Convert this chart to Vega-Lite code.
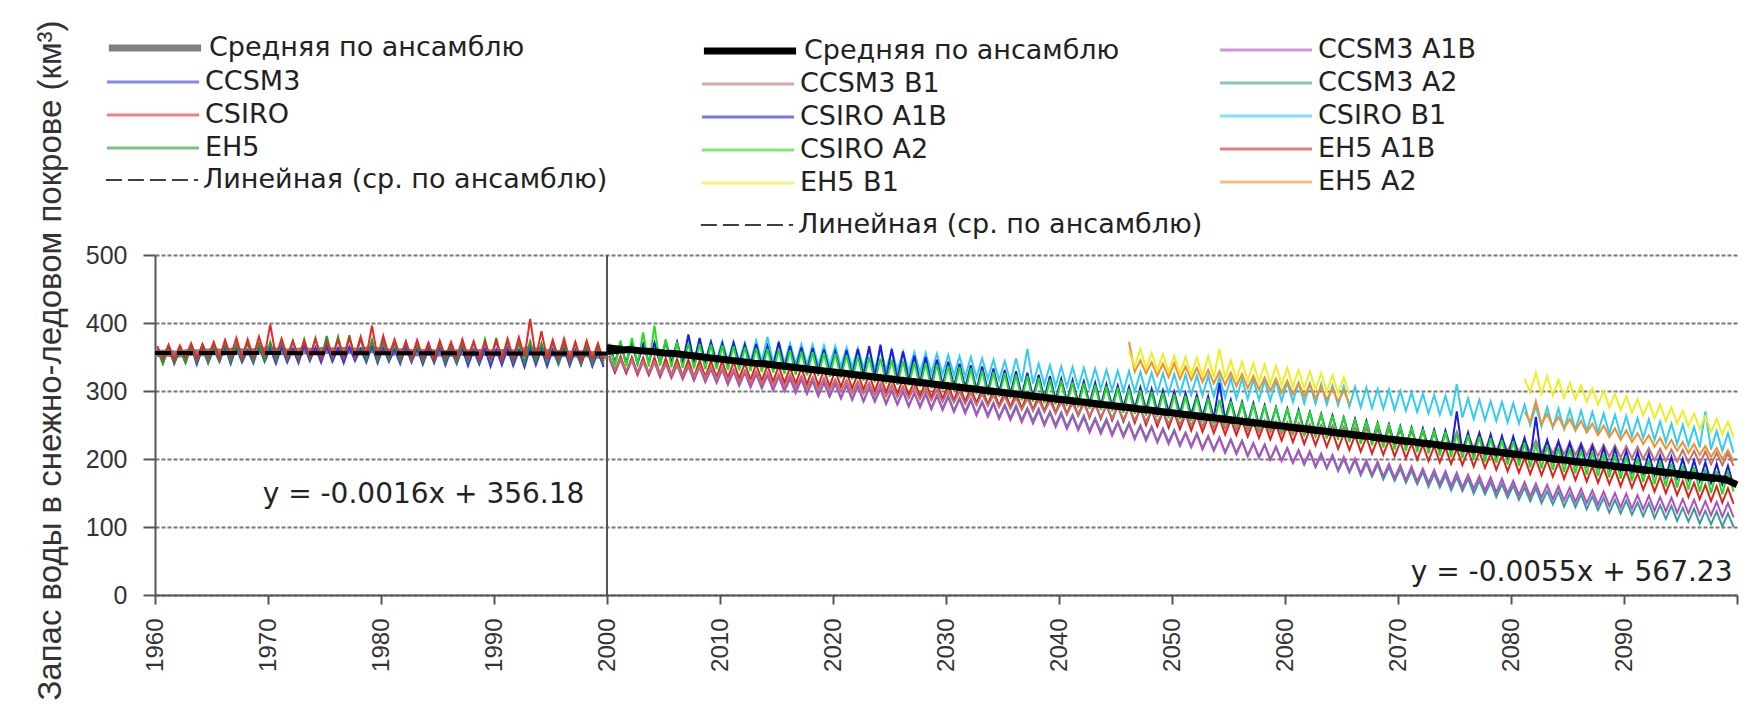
{
"$schema":"https://vega.github.io/schema/vega-lite/v6.json",
"width":1582,"height":340,
"autosize":{"type":"none"},
"padding":{"left":155,"top":255,"right":15,"bottom":133},
"background":"#ffffff",
"config":{"view":{"stroke":null},"font":"Liberation Sans","legend":{"orient":"none","symbolType":"stroke","symbolSize":8500,"clipHeight":30,"labelFont":"DejaVu Sans","labelFontSize":27,"labelColor":"#222222","labelLimit":0,"rowPadding":3,"labelOffset":4}},
"datasets":{
"hc":[{"t":1960.2,"v":362},{"t":1960.7,"v":341},{"t":1961.2,"v":364},{"t":1961.7,"v":340},{"t":1962.2,"v":361},{"t":1962.7,"v":342},{"t":1963.2,"v":366},{"t":1963.7,"v":339},{"t":1964.2,"v":363},{"t":1964.7,"v":341},{"t":1965.2,"v":362},{"t":1965.7,"v":343},{"t":1966.2,"v":365},{"t":1966.7,"v":340},{"t":1967.2,"v":364},{"t":1967.7,"v":342},{"t":1968.2,"v":360},{"t":1968.7,"v":341},{"t":1969.2,"v":366},{"t":1969.7,"v":343},{"t":1970.2,"v":363},{"t":1970.7,"v":340},{"t":1971.2,"v":365},{"t":1971.7,"v":342},{"t":1972.2,"v":362},{"t":1972.7,"v":341},{"t":1973.2,"v":367},{"t":1973.7,"v":344},{"t":1974.2,"v":364},{"t":1974.7,"v":342},{"t":1975.2,"v":366},{"t":1975.7,"v":343},{"t":1976.2,"v":363},{"t":1976.7,"v":341},{"t":1977.2,"v":365},{"t":1977.7,"v":344},{"t":1978.2,"v":362},{"t":1978.7,"v":342},{"t":1979.2,"v":366},{"t":1979.7,"v":341},{"t":1980.2,"v":364},{"t":1980.7,"v":343},{"t":1981.2,"v":361},{"t":1981.7,"v":340},{"t":1982.2,"v":365},{"t":1982.7,"v":342},{"t":1983.2,"v":363},{"t":1983.7,"v":339},{"t":1984.2,"v":362},{"t":1984.7,"v":341},{"t":1985.2,"v":364},{"t":1985.7,"v":338},{"t":1986.2,"v":361},{"t":1986.7,"v":340},{"t":1987.2,"v":363},{"t":1987.7,"v":337},{"t":1988.2,"v":360},{"t":1988.7,"v":339},{"t":1989.2,"v":362},{"t":1989.7,"v":336},{"t":1990.2,"v":361},{"t":1990.7,"v":338},{"t":1991.2,"v":363},{"t":1991.7,"v":337},{"t":1992.2,"v":360},{"t":1992.7,"v":335},{"t":1993.2,"v":364},{"t":1993.7,"v":338},{"t":1994.2,"v":362},{"t":1994.7,"v":336},{"t":1995.2,"v":361},{"t":1995.7,"v":339},{"t":1996.2,"v":363},{"t":1996.7,"v":337},{"t":1997.2,"v":360},{"t":1997.7,"v":338},{"t":1998.2,"v":362},{"t":1998.7,"v":336},{"t":1999.2,"v":358},{"t":1999.7,"v":335}],
"hs":[{"t":1960.2,"v":366},{"t":1960.7,"v":348},{"t":1961.2,"v":368},{"t":1961.7,"v":346},{"t":1962.2,"v":367},{"t":1962.7,"v":349},{"t":1963.2,"v":370},{"t":1963.7,"v":347},{"t":1964.2,"v":369},{"t":1964.7,"v":350},{"t":1965.2,"v":372},{"t":1965.7,"v":348},{"t":1966.2,"v":375},{"t":1966.7,"v":351},{"t":1967.2,"v":378},{"t":1967.7,"v":349},{"t":1968.2,"v":376},{"t":1968.7,"v":350},{"t":1969.2,"v":380},{"t":1969.7,"v":352},{"t":1970.2,"v":398},{"t":1970.7,"v":350},{"t":1971.2,"v":377},{"t":1971.7,"v":351},{"t":1972.2,"v":374},{"t":1972.7,"v":349},{"t":1973.2,"v":373},{"t":1973.7,"v":350},{"t":1974.2,"v":376},{"t":1974.7,"v":348},{"t":1975.2,"v":372},{"t":1975.7,"v":351},{"t":1976.2,"v":375},{"t":1976.7,"v":349},{"t":1977.2,"v":378},{"t":1977.7,"v":350},{"t":1978.2,"v":380},{"t":1978.7,"v":351},{"t":1979.2,"v":396},{"t":1979.7,"v":349},{"t":1980.2,"v":381},{"t":1980.7,"v":352},{"t":1981.2,"v":376},{"t":1981.7,"v":350},{"t":1982.2,"v":373},{"t":1982.7,"v":348},{"t":1983.2,"v":375},{"t":1983.7,"v":349},{"t":1984.2,"v":371},{"t":1984.7,"v":347},{"t":1985.2,"v":374},{"t":1985.7,"v":350},{"t":1986.2,"v":372},{"t":1986.7,"v":348},{"t":1987.2,"v":376},{"t":1987.7,"v":349},{"t":1988.2,"v":373},{"t":1988.7,"v":347},{"t":1989.2,"v":371},{"t":1989.7,"v":348},{"t":1990.2,"v":374},{"t":1990.7,"v":346},{"t":1991.2,"v":377},{"t":1991.7,"v":348},{"t":1992.2,"v":379},{"t":1992.7,"v":350},{"t":1993.2,"v":406},{"t":1993.7,"v":349},{"t":1994.2,"v":388},{"t":1994.7,"v":347},{"t":1995.2,"v":375},{"t":1995.7,"v":348},{"t":1996.2,"v":377},{"t":1996.7,"v":346},{"t":1997.2,"v":372},{"t":1997.7,"v":345},{"t":1998.2,"v":374},{"t":1998.7,"v":347},{"t":1999.2,"v":370},{"t":1999.7,"v":344}],
"he":[{"t":1960.2,"v":362},{"t":1960.7,"v":340},{"t":1961.2,"v":365},{"t":1961.7,"v":342},{"t":1962.2,"v":363},{"t":1962.7,"v":341},{"t":1963.2,"v":366},{"t":1963.7,"v":343},{"t":1964.2,"v":368},{"t":1964.7,"v":342},{"t":1965.2,"v":367},{"t":1965.7,"v":344},{"t":1966.2,"v":370},{"t":1966.7,"v":343},{"t":1967.2,"v":369},{"t":1967.7,"v":345},{"t":1968.2,"v":371},{"t":1968.7,"v":344},{"t":1969.2,"v":370},{"t":1969.7,"v":346},{"t":1970.2,"v":372},{"t":1970.7,"v":345},{"t":1971.2,"v":374},{"t":1971.7,"v":347},{"t":1972.2,"v":373},{"t":1972.7,"v":346},{"t":1973.2,"v":376},{"t":1973.7,"v":348},{"t":1974.2,"v":378},{"t":1974.7,"v":347},{"t":1975.2,"v":381},{"t":1975.7,"v":349},{"t":1976.2,"v":380},{"t":1976.7,"v":348},{"t":1977.2,"v":382},{"t":1977.7,"v":347},{"t":1978.2,"v":377},{"t":1978.7,"v":346},{"t":1979.2,"v":375},{"t":1979.7,"v":345},{"t":1980.2,"v":373},{"t":1980.7,"v":346},{"t":1981.2,"v":371},{"t":1981.7,"v":344},{"t":1982.2,"v":372},{"t":1982.7,"v":345},{"t":1983.2,"v":369},{"t":1983.7,"v":343},{"t":1984.2,"v":370},{"t":1984.7,"v":344},{"t":1985.2,"v":371},{"t":1985.7,"v":343},{"t":1986.2,"v":368},{"t":1986.7,"v":342},{"t":1987.2,"v":370},{"t":1987.7,"v":344},{"t":1988.2,"v":372},{"t":1988.7,"v":343},{"t":1989.2,"v":376},{"t":1989.7,"v":345},{"t":1990.2,"v":378},{"t":1990.7,"v":344},{"t":1991.2,"v":374},{"t":1991.7,"v":343},{"t":1992.2,"v":371},{"t":1992.7,"v":342},{"t":1993.2,"v":373},{"t":1993.7,"v":344},{"t":1994.2,"v":370},{"t":1994.7,"v":343},{"t":1995.2,"v":372},{"t":1995.7,"v":341},{"t":1996.2,"v":369},{"t":1996.7,"v":342},{"t":1997.2,"v":371},{"t":1997.7,"v":340},{"t":1998.2,"v":368},{"t":1998.7,"v":341},{"t":1999.2,"v":366},{"t":1999.7,"v":339}],
"hm":[{"t":1960,"v":355},{"t":1961,"v":356},{"t":1962,"v":354},{"t":1963,"v":357},{"t":1964,"v":356},{"t":1965,"v":358},{"t":1966,"v":357},{"t":1967,"v":359},{"t":1968,"v":357},{"t":1969,"v":358},{"t":1970,"v":361},{"t":1971,"v":358},{"t":1972,"v":357},{"t":1973,"v":359},{"t":1974,"v":358},{"t":1975,"v":360},{"t":1976,"v":359},{"t":1977,"v":360},{"t":1978,"v":358},{"t":1979,"v":361},{"t":1980,"v":359},{"t":1981,"v":357},{"t":1982,"v":358},{"t":1983,"v":356},{"t":1984,"v":357},{"t":1985,"v":356},{"t":1986,"v":355},{"t":1987,"v":357},{"t":1988,"v":356},{"t":1989,"v":357},{"t":1990,"v":356},{"t":1991,"v":357},{"t":1992,"v":356},{"t":1993,"v":361},{"t":1994,"v":358},{"t":1995,"v":356},{"t":1996,"v":355},{"t":1997,"v":354},{"t":1998,"v":355},{"t":1999,"v":353},{"t":2000,"v":352}],
"hl":[{"t":1960,"v":356},{"t":2000,"v":355}],
"fl":[{"t":2000,"v":366},{"t":2100,"v":165}],
"a2":[{"t":2000.2,"v":351},{"t":2000.7,"v":331},{"t":2001.2,"v":347},{"t":2001.7,"v":328},{"t":2002.2,"v":347},{"t":2002.7,"v":325},{"t":2003.2,"v":346},{"t":2003.7,"v":326},{"t":2004.2,"v":344},{"t":2004.7,"v":322},{"t":2005.2,"v":342},{"t":2005.7,"v":321},{"t":2006.2,"v":338},{"t":2006.7,"v":320},{"t":2007.2,"v":338},{"t":2007.7,"v":316},{"t":2008.2,"v":337},{"t":2008.7,"v":315},{"t":2009.2,"v":333},{"t":2009.7,"v":314},{"t":2010.2,"v":333},{"t":2010.7,"v":312},{"t":2011.2,"v":330},{"t":2011.7,"v":309},{"t":2012.2,"v":329},{"t":2012.7,"v":307},{"t":2013.2,"v":325},{"t":2013.7,"v":306},{"t":2014.2,"v":324},{"t":2014.7,"v":302},{"t":2015.2,"v":322},{"t":2015.7,"v":300},{"t":2016.2,"v":318},{"t":2016.7,"v":300},{"t":2017.2,"v":318},{"t":2017.7,"v":296},{"t":2018.2,"v":315},{"t":2018.7,"v":293},{"t":2019.2,"v":312},{"t":2019.7,"v":292},{"t":2020.2,"v":311},{"t":2020.7,"v":290},{"t":2021.2,"v":308},{"t":2021.7,"v":287},{"t":2022.2,"v":307},{"t":2022.7,"v":285},{"t":2023.2,"v":305},{"t":2023.7,"v":286},{"t":2024.2,"v":304},{"t":2024.7,"v":282},{"t":2025.2,"v":301},{"t":2025.7,"v":281},{"t":2026.2,"v":300},{"t":2026.7,"v":278},{"t":2027.2,"v":297},{"t":2027.7,"v":278},{"t":2028.2,"v":297},{"t":2028.7,"v":275},{"t":2029.2,"v":294},{"t":2029.7,"v":274},{"t":2030.2,"v":293},{"t":2030.7,"v":271},{"t":2031.2,"v":290},{"t":2031.7,"v":270},{"t":2032.2,"v":288},{"t":2032.7,"v":266},{"t":2033.2,"v":285},{"t":2033.7,"v":265},{"t":2034.2,"v":283},{"t":2034.7,"v":261},{"t":2035.2,"v":280},{"t":2035.7,"v":260},{"t":2036.2,"v":279},{"t":2036.7,"v":257},{"t":2037.2,"v":275},{"t":2037.7,"v":256},{"t":2038.2,"v":274},{"t":2038.7,"v":252},{"t":2039.2,"v":270},{"t":2039.7,"v":250},{"t":2040.2,"v":269},{"t":2040.7,"v":247},{"t":2041.2,"v":265},{"t":2041.7,"v":245},{"t":2042.2,"v":264},{"t":2042.7,"v":242},{"t":2043.2,"v":260},{"t":2043.7,"v":241},{"t":2044.2,"v":259},{"t":2044.7,"v":237},{"t":2045.2,"v":255},{"t":2045.7,"v":235},{"t":2046.2,"v":253},{"t":2046.7,"v":231},{"t":2047.2,"v":250},{"t":2047.7,"v":230},{"t":2048.2,"v":248},{"t":2048.7,"v":226},{"t":2049.2,"v":245},{"t":2049.7,"v":225},{"t":2050.2,"v":243},{"t":2050.7,"v":221},{"t":2051.2,"v":239},{"t":2051.7,"v":219},{"t":2052.2,"v":238},{"t":2052.7,"v":216},{"t":2053.2,"v":234},{"t":2053.7,"v":214},{"t":2054.2,"v":232},{"t":2054.7,"v":210},{"t":2055.2,"v":229},{"t":2055.7,"v":209},{"t":2056.2,"v":227},{"t":2056.7,"v":205},{"t":2057.2,"v":223},{"t":2057.7,"v":203},{"t":2058.2,"v":221},{"t":2058.7,"v":199},{"t":2059.2,"v":218},{"t":2059.7,"v":198},{"t":2060.2,"v":216},{"t":2060.7,"v":195},{"t":2061.2,"v":212},{"t":2061.7,"v":192},{"t":2062.2,"v":210},{"t":2062.7,"v":188},{"t":2063.2,"v":206},{"t":2063.7,"v":186},{"t":2064.2,"v":204},{"t":2064.7,"v":182},{"t":2065.2,"v":200},{"t":2065.7,"v":180},{"t":2066.2,"v":198},{"t":2066.7,"v":176},{"t":2067.2,"v":194},{"t":2067.7,"v":174},{"t":2068.2,"v":192},{"t":2068.7,"v":170},{"t":2069.2,"v":188},{"t":2069.7,"v":168},{"t":2070.2,"v":186},{"t":2070.7,"v":165},{"t":2071.2,"v":183},{"t":2071.7,"v":163},{"t":2072.2,"v":181},{"t":2072.7,"v":159},{"t":2073.2,"v":178},{"t":2073.7,"v":158},{"t":2074.2,"v":176},{"t":2074.7,"v":154},{"t":2075.2,"v":173},{"t":2075.7,"v":153},{"t":2076.2,"v":171},{"t":2076.7,"v":149},{"t":2077.2,"v":168},{"t":2077.7,"v":148},{"t":2078.2,"v":166},{"t":2078.7,"v":144},{"t":2079.2,"v":163},{"t":2079.7,"v":143},{"t":2080.2,"v":161},{"t":2080.7,"v":140},{"t":2081.2,"v":158},{"t":2081.7,"v":138},{"t":2082.2,"v":157},{"t":2082.7,"v":135},{"t":2083.2,"v":153},{"t":2083.7,"v":133},{"t":2084.2,"v":152},{"t":2084.7,"v":130},{"t":2085.2,"v":149},{"t":2085.7,"v":129},{"t":2086.2,"v":148},{"t":2086.7,"v":126},{"t":2087.2,"v":145},{"t":2087.7,"v":125},{"t":2088.2,"v":143},{"t":2088.7,"v":121},{"t":2089.2,"v":140},{"t":2089.7,"v":120},{"t":2090.2,"v":139},{"t":2090.7,"v":118},{"t":2091.2,"v":136},{"t":2091.7,"v":116},{"t":2092.2,"v":135},{"t":2092.7,"v":113},{"t":2093.2,"v":132},{"t":2093.7,"v":112},{"t":2094.2,"v":131},{"t":2094.7,"v":109},{"t":2095.2,"v":128},{"t":2095.7,"v":108},{"t":2096.2,"v":127},{"t":2096.7,"v":105},{"t":2097.2,"v":124},{"t":2097.7,"v":104},{"t":2098.2,"v":123},{"t":2098.7,"v":101},{"t":2099.2,"v":120},{"t":2099.7,"v":100}],
"a1":[{"t":2000.2,"v":348},{"t":2000.7,"v":327},{"t":2001.2,"v":346},{"t":2001.7,"v":326},{"t":2002.2,"v":345},{"t":2002.7,"v":323},{"t":2003.2,"v":343},{"t":2003.7,"v":323},{"t":2004.2,"v":342},{"t":2004.7,"v":320},{"t":2005.2,"v":340},{"t":2005.7,"v":319},{"t":2006.2,"v":338},{"t":2006.7,"v":317},{"t":2007.2,"v":336},{"t":2007.7,"v":316},{"t":2008.2,"v":335},{"t":2008.7,"v":313},{"t":2009.2,"v":332},{"t":2009.7,"v":312},{"t":2010.2,"v":331},{"t":2010.7,"v":309},{"t":2011.2,"v":329},{"t":2011.7,"v":308},{"t":2012.2,"v":327},{"t":2012.7,"v":305},{"t":2013.2,"v":325},{"t":2013.7,"v":304},{"t":2014.2,"v":323},{"t":2014.7,"v":301},{"t":2015.2,"v":321},{"t":2015.7,"v":300},{"t":2016.2,"v":319},{"t":2016.7,"v":297},{"t":2017.2,"v":317},{"t":2017.7,"v":296},{"t":2018.2,"v":315},{"t":2018.7,"v":293},{"t":2019.2,"v":313},{"t":2019.7,"v":292},{"t":2020.2,"v":311},{"t":2020.7,"v":289},{"t":2021.2,"v":309},{"t":2021.7,"v":288},{"t":2022.2,"v":307},{"t":2022.7,"v":285},{"t":2023.2,"v":305},{"t":2023.7,"v":284},{"t":2024.2,"v":303},{"t":2024.7,"v":281},{"t":2025.2,"v":301},{"t":2025.7,"v":280},{"t":2026.2,"v":299},{"t":2026.7,"v":277},{"t":2027.2,"v":297},{"t":2027.7,"v":276},{"t":2028.2,"v":295},{"t":2028.7,"v":273},{"t":2029.2,"v":293},{"t":2029.7,"v":272},{"t":2030.2,"v":291},{"t":2030.7,"v":269},{"t":2031.2,"v":288},{"t":2031.7,"v":267},{"t":2032.2,"v":286},{"t":2032.7,"v":264},{"t":2033.2,"v":283},{"t":2033.7,"v":262},{"t":2034.2,"v":281},{"t":2034.7,"v":259},{"t":2035.2,"v":278},{"t":2035.7,"v":257},{"t":2036.2,"v":276},{"t":2036.7,"v":254},{"t":2037.2,"v":273},{"t":2037.7,"v":252},{"t":2038.2,"v":271},{"t":2038.7,"v":249},{"t":2039.2,"v":268},{"t":2039.7,"v":247},{"t":2040.2,"v":266},{"t":2040.7,"v":244},{"t":2041.2,"v":263},{"t":2041.7,"v":242},{"t":2042.2,"v":261},{"t":2042.7,"v":239},{"t":2043.2,"v":258},{"t":2043.7,"v":237},{"t":2044.2,"v":256},{"t":2044.7,"v":234},{"t":2045.2,"v":253},{"t":2045.7,"v":232},{"t":2046.2,"v":251},{"t":2046.7,"v":229},{"t":2047.2,"v":248},{"t":2047.7,"v":227},{"t":2048.2,"v":246},{"t":2048.7,"v":224},{"t":2049.2,"v":243},{"t":2049.7,"v":222},{"t":2050.2,"v":241},{"t":2050.7,"v":219},{"t":2051.2,"v":238},{"t":2051.7,"v":217},{"t":2052.2,"v":236},{"t":2052.7,"v":214},{"t":2053.2,"v":233},{"t":2053.7,"v":212},{"t":2054.2,"v":231},{"t":2054.7,"v":209},{"t":2055.2,"v":228},{"t":2055.7,"v":207},{"t":2056.2,"v":226},{"t":2056.7,"v":204},{"t":2057.2,"v":223},{"t":2057.7,"v":202},{"t":2058.2,"v":221},{"t":2058.7,"v":199},{"t":2059.2,"v":218},{"t":2059.7,"v":197},{"t":2060.2,"v":216},{"t":2060.7,"v":194},{"t":2061.2,"v":213},{"t":2061.7,"v":192},{"t":2062.2,"v":211},{"t":2062.7,"v":189},{"t":2063.2,"v":208},{"t":2063.7,"v":187},{"t":2064.2,"v":206},{"t":2064.7,"v":184},{"t":2065.2,"v":203},{"t":2065.7,"v":182},{"t":2066.2,"v":201},{"t":2066.7,"v":179},{"t":2067.2,"v":198},{"t":2067.7,"v":177},{"t":2068.2,"v":196},{"t":2068.7,"v":174},{"t":2069.2,"v":193},{"t":2069.7,"v":172},{"t":2070.2,"v":191},{"t":2070.7,"v":169},{"t":2071.2,"v":189},{"t":2071.7,"v":167},{"t":2072.2,"v":186},{"t":2072.7,"v":165},{"t":2073.2,"v":184},{"t":2073.7,"v":163},{"t":2074.2,"v":182},{"t":2074.7,"v":160},{"t":2075.2,"v":180},{"t":2075.7,"v":158},{"t":2076.2,"v":177},{"t":2076.7,"v":156},{"t":2077.2,"v":175},{"t":2077.7,"v":154},{"t":2078.2,"v":173},{"t":2078.7,"v":151},{"t":2079.2,"v":171},{"t":2079.7,"v":149},{"t":2080.2,"v":168},{"t":2080.7,"v":147},{"t":2081.2,"v":166},{"t":2081.7,"v":145},{"t":2082.2,"v":164},{"t":2082.7,"v":143},{"t":2083.2,"v":162},{"t":2083.7,"v":141},{"t":2084.2,"v":160},{"t":2084.7,"v":139},{"t":2085.2,"v":158},{"t":2085.7,"v":137},{"t":2086.2,"v":156},{"t":2086.7,"v":135},{"t":2087.2,"v":154},{"t":2087.7,"v":133},{"t":2088.2,"v":152},{"t":2088.7,"v":131},{"t":2089.2,"v":150},{"t":2089.7,"v":129},{"t":2090.2,"v":149},{"t":2090.7,"v":127},{"t":2091.2,"v":147},{"t":2091.7,"v":126},{"t":2092.2,"v":146},{"t":2092.7,"v":124},{"t":2093.2,"v":144},{"t":2093.7,"v":123},{"t":2094.2,"v":143},{"t":2094.7,"v":121},{"t":2095.2,"v":141},{"t":2095.7,"v":120},{"t":2096.2,"v":140},{"t":2096.7,"v":118},{"t":2097.2,"v":138},{"t":2097.7,"v":117},{"t":2098.2,"v":137},{"t":2098.7,"v":115},{"t":2099.2,"v":135},{"t":2099.7,"v":114}],
"b1":[{"t":2000.2,"v":350},{"t":2000.7,"v":331},{"t":2001.2,"v":347},{"t":2001.7,"v":330},{"t":2002.2,"v":346},{"t":2002.7,"v":328},{"t":2003.2,"v":344},{"t":2003.7,"v":327},{"t":2004.2,"v":343},{"t":2004.7,"v":325},{"t":2005.2,"v":341},{"t":2005.7,"v":324},{"t":2006.2,"v":340},{"t":2006.7,"v":322},{"t":2007.2,"v":338},{"t":2007.7,"v":321},{"t":2008.2,"v":337},{"t":2008.7,"v":319},{"t":2009.2,"v":335},{"t":2009.7,"v":318},{"t":2010.2,"v":334},{"t":2010.7,"v":316},{"t":2011.2,"v":332},{"t":2011.7,"v":314},{"t":2012.2,"v":330},{"t":2012.7,"v":313},{"t":2013.2,"v":329},{"t":2013.7,"v":311},{"t":2014.2,"v":327},{"t":2014.7,"v":309},{"t":2015.2,"v":325},{"t":2015.7,"v":307},{"t":2016.2,"v":324},{"t":2016.7,"v":306},{"t":2017.2,"v":322},{"t":2017.7,"v":304},{"t":2018.2,"v":320},{"t":2018.7,"v":302},{"t":2019.2,"v":319},{"t":2019.7,"v":301},{"t":2020.2,"v":317},{"t":2020.7,"v":299},{"t":2021.2,"v":316},{"t":2021.7,"v":297},{"t":2022.2,"v":314},{"t":2022.7,"v":296},{"t":2023.2,"v":312},{"t":2023.7,"v":294},{"t":2024.2,"v":311},{"t":2024.7,"v":292},{"t":2025.2,"v":309},{"t":2025.7,"v":291},{"t":2026.2,"v":307},{"t":2026.7,"v":289},{"t":2027.2,"v":306},{"t":2027.7,"v":288},{"t":2028.2,"v":304},{"t":2028.7,"v":286},{"t":2029.2,"v":302},{"t":2029.7,"v":284},{"t":2030.2,"v":301},{"t":2030.7,"v":283},{"t":2031.2,"v":299},{"t":2031.7,"v":281},{"t":2032.2,"v":297},{"t":2032.7,"v":279},{"t":2033.2,"v":296},{"t":2033.7,"v":278},{"t":2034.2,"v":294},{"t":2034.7,"v":276},{"t":2035.2,"v":292},{"t":2035.7,"v":274},{"t":2036.2,"v":290},{"t":2036.7,"v":272},{"t":2037.2,"v":289},{"t":2037.7,"v":271},{"t":2038.2,"v":287},{"t":2038.7,"v":269},{"t":2039.2,"v":285},{"t":2039.7,"v":267},{"t":2040.2,"v":284},{"t":2040.7,"v":266},{"t":2041.2,"v":282},{"t":2041.7,"v":264},{"t":2042.2,"v":281},{"t":2042.7,"v":263},{"t":2043.2,"v":279},{"t":2043.7,"v":261},{"t":2044.2,"v":278},{"t":2044.7,"v":260},{"t":2045.2,"v":276},{"t":2045.7,"v":258},{"t":2046.2,"v":275},{"t":2046.7,"v":257},{"t":2047.2,"v":273},{"t":2047.7,"v":255},{"t":2048.2,"v":272},{"t":2048.7,"v":254},{"t":2049.2,"v":270},{"t":2049.7,"v":252},{"t":2050.2,"v":269},{"t":2050.7,"v":251},{"t":2051.2,"v":267},{"t":2051.7,"v":249},{"t":2052.2,"v":266},{"t":2052.7,"v":248},{"t":2053.2,"v":264},{"t":2053.7,"v":246},{"t":2054.2,"v":263},{"t":2054.7,"v":245},{"t":2055.2,"v":261},{"t":2055.7,"v":243},{"t":2056.2,"v":260},{"t":2056.7,"v":242},{"t":2057.2,"v":258},{"t":2057.7,"v":240},{"t":2058.2,"v":257},{"t":2058.7,"v":239},{"t":2059.2,"v":255},{"t":2059.7,"v":237},{"t":2060.2,"v":254},{"t":2060.7,"v":236},{"t":2061.2,"v":253},{"t":2061.7,"v":235},{"t":2062.2,"v":251},{"t":2062.7,"v":233},{"t":2063.2,"v":250},{"t":2063.7,"v":232},{"t":2064.2,"v":249},{"t":2064.7,"v":231},{"t":2065.2,"v":247},{"t":2065.7,"v":229},{"t":2066.2,"v":246},{"t":2066.7,"v":228},{"t":2067.2,"v":245},{"t":2067.7,"v":227},{"t":2068.2,"v":243},{"t":2068.7,"v":225},{"t":2069.2,"v":242},{"t":2069.7,"v":224},{"t":2070.2,"v":241},{"t":2070.7,"v":223},{"t":2071.2,"v":240},{"t":2071.7,"v":222},{"t":2072.2,"v":239},{"t":2072.7,"v":220},{"t":2073.2,"v":237},{"t":2073.7,"v":219},{"t":2074.2,"v":236},{"t":2074.7,"v":218},{"t":2075.2,"v":240},{"t":2075.7,"v":217},{"t":2076.2,"v":234},{"t":2076.7,"v":216},{"t":2077.2,"v":238},{"t":2077.7,"v":214},{"t":2078.2,"v":231},{"t":2078.7,"v":213},{"t":2079.2,"v":230},{"t":2079.7,"v":212},{"t":2080.2,"v":229},{"t":2080.7,"v":211},{"t":2081.2,"v":228},{"t":2081.7,"v":210},{"t":2082.2,"v":227},{"t":2082.7,"v":209},{"t":2083.2,"v":226},{"t":2083.7,"v":208},{"t":2084.2,"v":225},{"t":2084.7,"v":207},{"t":2085.2,"v":224},{"t":2085.7,"v":206},{"t":2086.2,"v":223},{"t":2086.7,"v":205},{"t":2087.2,"v":222},{"t":2087.7,"v":204},{"t":2088.2,"v":221},{"t":2088.7,"v":203},{"t":2089.2,"v":220},{"t":2089.7,"v":202},{"t":2090.2,"v":219},{"t":2090.7,"v":201},{"t":2091.2,"v":218},{"t":2091.7,"v":200},{"t":2092.2,"v":216},{"t":2092.7,"v":198},{"t":2093.2,"v":215},{"t":2093.7,"v":197},{"t":2094.2,"v":214},{"t":2094.7,"v":196},{"t":2095.2,"v":213},{"t":2095.7,"v":195},{"t":2096.2,"v":212},{"t":2096.7,"v":193},{"t":2097.2,"v":211},{"t":2097.7,"v":192},{"t":2098.2,"v":209},{"t":2098.7,"v":191},{"t":2099.2,"v":208},{"t":2099.7,"v":190}],
"sa1":[{"t":2000.2,"v":368},{"t":2000.7,"v":342},{"t":2001.2,"v":370},{"t":2001.7,"v":341},{"t":2002.2,"v":372},{"t":2002.7,"v":340},{"t":2003.2,"v":369},{"t":2003.7,"v":342},{"t":2004.2,"v":371},{"t":2004.7,"v":340},{"t":2005.2,"v":374},{"t":2005.7,"v":341},{"t":2006.2,"v":372},{"t":2006.7,"v":340},{"t":2007.2,"v":383},{"t":2007.7,"v":342},{"t":2008.2,"v":378},{"t":2008.7,"v":341},{"t":2009.2,"v":372},{"t":2009.7,"v":340},{"t":2010.2,"v":370},{"t":2010.7,"v":340},{"t":2011.2,"v":371},{"t":2011.7,"v":339},{"t":2012.2,"v":368},{"t":2012.7,"v":337},{"t":2013.2,"v":369},{"t":2013.7,"v":336},{"t":2014.2,"v":366},{"t":2014.7,"v":335},{"t":2015.2,"v":372},{"t":2015.7,"v":334},{"t":2016.2,"v":366},{"t":2016.7,"v":332},{"t":2017.2,"v":364},{"t":2017.7,"v":330},{"t":2018.2,"v":363},{"t":2018.7,"v":329},{"t":2019.2,"v":361},{"t":2019.7,"v":327},{"t":2020.2,"v":358},{"t":2020.7,"v":325},{"t":2021.2,"v":360},{"t":2021.7,"v":323},{"t":2022.2,"v":362},{"t":2022.7,"v":322},{"t":2023.2,"v":366},{"t":2023.7,"v":320},{"t":2024.2,"v":368},{"t":2024.7,"v":318},{"t":2025.2,"v":362},{"t":2025.7,"v":316},{"t":2026.2,"v":358},{"t":2026.7,"v":315},{"t":2027.2,"v":352},{"t":2027.7,"v":312},{"t":2028.2,"v":350},{"t":2028.7,"v":311},{"t":2029.2,"v":346},{"t":2029.7,"v":309},{"t":2030.2,"v":343},{"t":2030.7,"v":307},{"t":2031.2,"v":340},{"t":2031.7,"v":305},{"t":2032.2,"v":338},{"t":2032.7,"v":302},{"t":2033.2,"v":336},{"t":2033.7,"v":300},{"t":2034.2,"v":333},{"t":2034.7,"v":298},{"t":2035.2,"v":331},{"t":2035.7,"v":296},{"t":2036.2,"v":329},{"t":2036.7,"v":293},{"t":2037.2,"v":327},{"t":2037.7,"v":291},{"t":2038.2,"v":324},{"t":2038.7,"v":289},{"t":2039.2,"v":322},{"t":2039.7,"v":287},{"t":2040.2,"v":318},{"t":2040.7,"v":285},{"t":2041.2,"v":316},{"t":2041.7,"v":283},{"t":2042.2,"v":314},{"t":2042.7,"v":281},{"t":2043.2,"v":312},{"t":2043.7,"v":279},{"t":2044.2,"v":310},{"t":2044.7,"v":278},{"t":2045.2,"v":308},{"t":2045.7,"v":276},{"t":2046.2,"v":306},{"t":2046.7,"v":274},{"t":2047.2,"v":305},{"t":2047.7,"v":272},{"t":2048.2,"v":303},{"t":2048.7,"v":270},{"t":2049.2,"v":301},{"t":2049.7,"v":269},{"t":2050.2,"v":299},{"t":2050.7,"v":267},{"t":2051.2,"v":297},{"t":2051.7,"v":265},{"t":2052.2,"v":294},{"t":2052.7,"v":262},{"t":2053.2,"v":292},{"t":2053.7,"v":260},{"t":2054.2,"v":312},{"t":2054.7,"v":258},{"t":2055.2,"v":287},{"t":2055.7,"v":255},{"t":2056.2,"v":284},{"t":2056.7,"v":253},{"t":2057.2,"v":282},{"t":2057.7,"v":250},{"t":2058.2,"v":279},{"t":2058.7,"v":248},{"t":2059.2,"v":276},{"t":2059.7,"v":245},{"t":2060.2,"v":274},{"t":2060.7,"v":243},{"t":2061.2,"v":272},{"t":2061.7,"v":241},{"t":2062.2,"v":269},{"t":2062.7,"v":238},{"t":2063.2,"v":266},{"t":2063.7,"v":236},{"t":2064.2,"v":264},{"t":2064.7,"v":233},{"t":2065.2,"v":261},{"t":2065.7,"v":231},{"t":2066.2,"v":259},{"t":2066.7,"v":228},{"t":2067.2,"v":256},{"t":2067.7,"v":226},{"t":2068.2,"v":253},{"t":2068.7,"v":223},{"t":2069.2,"v":251},{"t":2069.7,"v":221},{"t":2070.2,"v":248},{"t":2070.7,"v":218},{"t":2071.2,"v":246},{"t":2071.7,"v":216},{"t":2072.2,"v":245},{"t":2072.7,"v":215},{"t":2073.2,"v":243},{"t":2073.7,"v":213},{"t":2074.2,"v":242},{"t":2074.7,"v":212},{"t":2075.2,"v":270},{"t":2075.7,"v":210},{"t":2076.2,"v":239},{"t":2076.7,"v":208},{"t":2077.2,"v":238},{"t":2077.7,"v":207},{"t":2078.2,"v":236},{"t":2078.7,"v":205},{"t":2079.2,"v":234},{"t":2079.7,"v":203},{"t":2080.2,"v":233},{"t":2080.7,"v":202},{"t":2081.2,"v":231},{"t":2081.7,"v":200},{"t":2082.2,"v":262},{"t":2082.7,"v":198},{"t":2083.2,"v":228},{"t":2083.7,"v":197},{"t":2084.2,"v":226},{"t":2084.7,"v":195},{"t":2085.2,"v":224},{"t":2085.7,"v":193},{"t":2086.2,"v":221},{"t":2086.7,"v":191},{"t":2087.2,"v":219},{"t":2087.7,"v":188},{"t":2088.2,"v":217},{"t":2088.7,"v":186},{"t":2089.2,"v":215},{"t":2089.7,"v":184},{"t":2090.2,"v":212},{"t":2090.7,"v":181},{"t":2091.2,"v":210},{"t":2091.7,"v":179},{"t":2092.2,"v":208},{"t":2092.7,"v":177},{"t":2093.2,"v":205},{"t":2093.7,"v":174},{"t":2094.2,"v":203},{"t":2094.7,"v":172},{"t":2095.2,"v":200},{"t":2095.7,"v":170},{"t":2096.2,"v":198},{"t":2096.7,"v":168},{"t":2097.2,"v":195},{"t":2097.7,"v":165},{"t":2098.2,"v":193},{"t":2098.7,"v":163},{"t":2099.2,"v":190},{"t":2099.7,"v":160}],
"sb1":[{"t":2000.2,"v":364},{"t":2000.7,"v":340},{"t":2001.2,"v":366},{"t":2001.7,"v":341},{"t":2002.2,"v":367},{"t":2002.7,"v":342},{"t":2003.2,"v":368},{"t":2003.7,"v":343},{"t":2004.2,"v":369},{"t":2004.7,"v":343},{"t":2005.2,"v":370},{"t":2005.7,"v":344},{"t":2006.2,"v":371},{"t":2006.7,"v":344},{"t":2007.2,"v":371},{"t":2007.7,"v":345},{"t":2008.2,"v":372},{"t":2008.7,"v":345},{"t":2009.2,"v":372},{"t":2009.7,"v":345},{"t":2010.2,"v":373},{"t":2010.7,"v":344},{"t":2011.2,"v":372},{"t":2011.7,"v":344},{"t":2012.2,"v":371},{"t":2012.7,"v":343},{"t":2013.2,"v":374},{"t":2013.7,"v":343},{"t":2014.2,"v":380},{"t":2014.7,"v":342},{"t":2015.2,"v":371},{"t":2015.7,"v":341},{"t":2016.2,"v":370},{"t":2016.7,"v":340},{"t":2017.2,"v":369},{"t":2017.7,"v":339},{"t":2018.2,"v":368},{"t":2018.7,"v":338},{"t":2019.2,"v":367},{"t":2019.7,"v":337},{"t":2020.2,"v":366},{"t":2020.7,"v":336},{"t":2021.2,"v":364},{"t":2021.7,"v":335},{"t":2022.2,"v":363},{"t":2022.7,"v":334},{"t":2023.2,"v":362},{"t":2023.7,"v":332},{"t":2024.2,"v":361},{"t":2024.7,"v":331},{"t":2025.2,"v":360},{"t":2025.7,"v":330},{"t":2026.2,"v":358},{"t":2026.7,"v":329},{"t":2027.2,"v":357},{"t":2027.7,"v":327},{"t":2028.2,"v":356},{"t":2028.7,"v":326},{"t":2029.2,"v":355},{"t":2029.7,"v":325},{"t":2030.2,"v":353},{"t":2030.7,"v":323},{"t":2031.2,"v":351},{"t":2031.7,"v":321},{"t":2032.2,"v":350},{"t":2032.7,"v":320},{"t":2033.2,"v":348},{"t":2033.7,"v":318},{"t":2034.2,"v":346},{"t":2034.7,"v":316},{"t":2035.2,"v":344},{"t":2035.7,"v":314},{"t":2036.2,"v":348},{"t":2036.7,"v":313},{"t":2037.2,"v":362},{"t":2037.7,"v":311},{"t":2038.2,"v":340},{"t":2038.7,"v":309},{"t":2039.2,"v":338},{"t":2039.7,"v":307},{"t":2040.2,"v":336},{"t":2040.7,"v":306},{"t":2041.2,"v":335},{"t":2041.7,"v":305},{"t":2042.2,"v":334},{"t":2042.7,"v":304},{"t":2043.2,"v":333},{"t":2043.7,"v":303},{"t":2044.2,"v":331},{"t":2044.7,"v":301},{"t":2045.2,"v":330},{"t":2045.7,"v":300},{"t":2046.2,"v":329},{"t":2046.7,"v":299},{"t":2047.2,"v":328},{"t":2047.7,"v":298},{"t":2048.2,"v":327},{"t":2048.7,"v":297},{"t":2049.2,"v":326},{"t":2049.7,"v":296},{"t":2050.2,"v":325},{"t":2050.7,"v":295},{"t":2051.2,"v":324},{"t":2051.7,"v":294},{"t":2052.2,"v":323},{"t":2052.7,"v":293},{"t":2053.2,"v":322},{"t":2053.7,"v":292},{"t":2054.2,"v":320},{"t":2054.7,"v":290},{"t":2055.2,"v":319},{"t":2055.7,"v":289},{"t":2056.2,"v":318},{"t":2056.7,"v":288},{"t":2057.2,"v":317},{"t":2057.7,"v":287},{"t":2058.2,"v":316},{"t":2058.7,"v":286},{"t":2059.2,"v":315},{"t":2059.7,"v":285},{"t":2060.2,"v":313},{"t":2060.7,"v":284},{"t":2061.2,"v":312},{"t":2061.7,"v":282},{"t":2062.2,"v":311},{"t":2062.7,"v":281},{"t":2063.2,"v":310},{"t":2063.7,"v":280},{"t":2064.2,"v":308},{"t":2064.7,"v":279},{"t":2065.2,"v":307},{"t":2065.7,"v":277},{"t":2066.2,"v":306},{"t":2066.7,"v":276},{"t":2067.2,"v":305},{"t":2067.7,"v":275},{"t":2068.2,"v":303},{"t":2068.7,"v":274},{"t":2069.2,"v":302},{"t":2069.7,"v":272},{"t":2070.2,"v":300},{"t":2070.7,"v":271},{"t":2071.2,"v":298},{"t":2071.7,"v":269},{"t":2072.2,"v":296},{"t":2072.7,"v":267},{"t":2073.2,"v":294},{"t":2073.7,"v":265},{"t":2074.2,"v":293},{"t":2074.7,"v":263},{"t":2075.2,"v":310},{"t":2075.7,"v":261},{"t":2076.2,"v":289},{"t":2076.7,"v":259},{"t":2077.2,"v":287},{"t":2077.7,"v":257},{"t":2078.2,"v":285},{"t":2078.7,"v":256},{"t":2079.2,"v":284},{"t":2079.7,"v":254},{"t":2080.2,"v":282},{"t":2080.7,"v":252},{"t":2081.2,"v":280},{"t":2081.7,"v":250},{"t":2082.2,"v":278},{"t":2082.7,"v":248},{"t":2083.2,"v":276},{"t":2083.7,"v":246},{"t":2084.2,"v":274},{"t":2084.7,"v":244},{"t":2085.2,"v":273},{"t":2085.7,"v":243},{"t":2086.2,"v":271},{"t":2086.7,"v":241},{"t":2087.2,"v":269},{"t":2087.7,"v":239},{"t":2088.2,"v":267},{"t":2088.7,"v":237},{"t":2089.2,"v":265},{"t":2089.7,"v":235},{"t":2090.2,"v":263},{"t":2090.7,"v":233},{"t":2091.2,"v":260},{"t":2091.7,"v":231},{"t":2092.2,"v":258},{"t":2092.7,"v":228},{"t":2093.2,"v":255},{"t":2093.7,"v":225},{"t":2094.2,"v":252},{"t":2094.7,"v":222},{"t":2095.2,"v":250},{"t":2095.7,"v":220},{"t":2096.2,"v":247},{"t":2096.7,"v":217},{"t":2097.2,"v":270},{"t":2097.7,"v":214},{"t":2098.2,"v":241},{"t":2098.7,"v":212},{"t":2099.2,"v":238},{"t":2099.7,"v":209}],
"sa2":[{"t":2000.2,"v":370},{"t":2000.7,"v":338},{"t":2001.2,"v":374},{"t":2001.7,"v":337},{"t":2002.2,"v":378},{"t":2002.7,"v":338},{"t":2003.2,"v":386},{"t":2003.7,"v":336},{"t":2004.2,"v":396},{"t":2004.7,"v":337},{"t":2005.2,"v":376},{"t":2005.7,"v":335},{"t":2006.2,"v":372},{"t":2006.7,"v":334},{"t":2007.2,"v":370},{"t":2007.7,"v":333},{"t":2008.2,"v":369},{"t":2008.7,"v":332},{"t":2009.2,"v":368},{"t":2009.7,"v":332},{"t":2010.2,"v":367},{"t":2010.7,"v":331},{"t":2011.2,"v":366},{"t":2011.7,"v":330},{"t":2012.2,"v":364},{"t":2012.7,"v":329},{"t":2013.2,"v":363},{"t":2013.7,"v":328},{"t":2014.2,"v":362},{"t":2014.7,"v":327},{"t":2015.2,"v":361},{"t":2015.7,"v":325},{"t":2016.2,"v":360},{"t":2016.7,"v":324},{"t":2017.2,"v":358},{"t":2017.7,"v":323},{"t":2018.2,"v":357},{"t":2018.7,"v":322},{"t":2019.2,"v":356},{"t":2019.7,"v":321},{"t":2020.2,"v":355},{"t":2020.7,"v":319},{"t":2021.2,"v":353},{"t":2021.7,"v":317},{"t":2022.2,"v":351},{"t":2022.7,"v":315},{"t":2023.2,"v":350},{"t":2023.7,"v":313},{"t":2024.2,"v":348},{"t":2024.7,"v":311},{"t":2025.2,"v":346},{"t":2025.7,"v":309},{"t":2026.2,"v":344},{"t":2026.7,"v":308},{"t":2027.2,"v":342},{"t":2027.7,"v":306},{"t":2028.2,"v":341},{"t":2028.7,"v":304},{"t":2029.2,"v":339},{"t":2029.7,"v":302},{"t":2030.2,"v":337},{"t":2030.7,"v":300},{"t":2031.2,"v":335},{"t":2031.7,"v":298},{"t":2032.2,"v":333},{"t":2032.7,"v":295},{"t":2033.2,"v":330},{"t":2033.7,"v":293},{"t":2034.2,"v":328},{"t":2034.7,"v":291},{"t":2035.2,"v":326},{"t":2035.7,"v":289},{"t":2036.2,"v":324},{"t":2036.7,"v":286},{"t":2037.2,"v":322},{"t":2037.7,"v":284},{"t":2038.2,"v":319},{"t":2038.7,"v":282},{"t":2039.2,"v":317},{"t":2039.7,"v":280},{"t":2040.2,"v":315},{"t":2040.7,"v":278},{"t":2041.2,"v":313},{"t":2041.7,"v":276},{"t":2042.2,"v":311},{"t":2042.7,"v":274},{"t":2043.2,"v":309},{"t":2043.7,"v":272},{"t":2044.2,"v":307},{"t":2044.7,"v":270},{"t":2045.2,"v":305},{"t":2045.7,"v":268},{"t":2046.2,"v":303},{"t":2046.7,"v":266},{"t":2047.2,"v":301},{"t":2047.7,"v":264},{"t":2048.2,"v":299},{"t":2048.7,"v":262},{"t":2049.2,"v":297},{"t":2049.7,"v":260},{"t":2050.2,"v":295},{"t":2050.7,"v":258},{"t":2051.2,"v":293},{"t":2051.7,"v":256},{"t":2052.2,"v":291},{"t":2052.7,"v":254},{"t":2053.2,"v":289},{"t":2053.7,"v":252},{"t":2054.2,"v":287},{"t":2054.7,"v":250},{"t":2055.2,"v":285},{"t":2055.7,"v":248},{"t":2056.2,"v":283},{"t":2056.7,"v":246},{"t":2057.2,"v":281},{"t":2057.7,"v":244},{"t":2058.2,"v":279},{"t":2058.7,"v":242},{"t":2059.2,"v":277},{"t":2059.7,"v":240},{"t":2060.2,"v":275},{"t":2060.7,"v":238},{"t":2061.2,"v":272},{"t":2061.7,"v":235},{"t":2062.2,"v":270},{"t":2062.7,"v":233},{"t":2063.2,"v":267},{"t":2063.7,"v":230},{"t":2064.2,"v":264},{"t":2064.7,"v":228},{"t":2065.2,"v":262},{"t":2065.7,"v":225},{"t":2066.2,"v":259},{"t":2066.7,"v":222},{"t":2067.2,"v":256},{"t":2067.7,"v":220},{"t":2068.2,"v":254},{"t":2068.7,"v":217},{"t":2069.2,"v":251},{"t":2069.7,"v":214},{"t":2070.2,"v":249},{"t":2070.7,"v":212},{"t":2071.2,"v":247},{"t":2071.7,"v":210},{"t":2072.2,"v":244},{"t":2072.7,"v":208},{"t":2073.2,"v":242},{"t":2073.7,"v":205},{"t":2074.2,"v":240},{"t":2074.7,"v":203},{"t":2075.2,"v":238},{"t":2075.7,"v":201},{"t":2076.2,"v":235},{"t":2076.7,"v":199},{"t":2077.2,"v":233},{"t":2077.7,"v":196},{"t":2078.2,"v":231},{"t":2078.7,"v":194},{"t":2079.2,"v":228},{"t":2079.7,"v":192},{"t":2080.2,"v":226},{"t":2080.7,"v":190},{"t":2081.2,"v":224},{"t":2081.7,"v":188},{"t":2082.2,"v":222},{"t":2082.7,"v":186},{"t":2083.2,"v":220},{"t":2083.7,"v":184},{"t":2084.2,"v":217},{"t":2084.7,"v":181},{"t":2085.2,"v":215},{"t":2085.7,"v":179},{"t":2086.2,"v":213},{"t":2086.7,"v":177},{"t":2087.2,"v":211},{"t":2087.7,"v":175},{"t":2088.2,"v":208},{"t":2088.7,"v":173},{"t":2089.2,"v":206},{"t":2089.7,"v":171},{"t":2090.2,"v":204},{"t":2090.7,"v":168},{"t":2091.2,"v":201},{"t":2091.7,"v":166},{"t":2092.2,"v":198},{"t":2092.7,"v":163},{"t":2093.2,"v":196},{"t":2093.7,"v":160},{"t":2094.2,"v":193},{"t":2094.7,"v":158},{"t":2095.2,"v":190},{"t":2095.7,"v":155},{"t":2096.2,"v":188},{"t":2096.7,"v":152},{"t":2097.2,"v":185},{"t":2097.7,"v":150},{"t":2098.2,"v":182},{"t":2098.7,"v":148},{"t":2099.2,"v":180},{"t":2099.7,"v":152}],
"ea1":[{"t":2000.2,"v":352},{"t":2000.7,"v":328},{"t":2001.2,"v":351},{"t":2001.7,"v":327},{"t":2002.2,"v":350},{"t":2002.7,"v":326},{"t":2003.2,"v":349},{"t":2003.7,"v":325},{"t":2004.2,"v":349},{"t":2004.7,"v":324},{"t":2005.2,"v":348},{"t":2005.7,"v":323},{"t":2006.2,"v":347},{"t":2006.7,"v":322},{"t":2007.2,"v":346},{"t":2007.7,"v":321},{"t":2008.2,"v":345},{"t":2008.7,"v":321},{"t":2009.2,"v":344},{"t":2009.7,"v":320},{"t":2010.2,"v":344},{"t":2010.7,"v":319},{"t":2011.2,"v":343},{"t":2011.7,"v":318},{"t":2012.2,"v":341},{"t":2012.7,"v":316},{"t":2013.2,"v":340},{"t":2013.7,"v":315},{"t":2014.2,"v":338},{"t":2014.7,"v":314},{"t":2015.2,"v":337},{"t":2015.7,"v":312},{"t":2016.2,"v":335},{"t":2016.7,"v":311},{"t":2017.2,"v":334},{"t":2017.7,"v":310},{"t":2018.2,"v":333},{"t":2018.7,"v":308},{"t":2019.2,"v":331},{"t":2019.7,"v":307},{"t":2020.2,"v":330},{"t":2020.7,"v":306},{"t":2021.2,"v":328},{"t":2021.7,"v":304},{"t":2022.2,"v":326},{"t":2022.7,"v":302},{"t":2023.2,"v":324},{"t":2023.7,"v":300},{"t":2024.2,"v":322},{"t":2024.7,"v":298},{"t":2025.2,"v":320},{"t":2025.7,"v":296},{"t":2026.2,"v":318},{"t":2026.7,"v":294},{"t":2027.2,"v":316},{"t":2027.7,"v":292},{"t":2028.2,"v":314},{"t":2028.7,"v":290},{"t":2029.2,"v":312},{"t":2029.7,"v":288},{"t":2030.2,"v":310},{"t":2030.7,"v":286},{"t":2031.2,"v":308},{"t":2031.7,"v":284},{"t":2032.2,"v":306},{"t":2032.7,"v":282},{"t":2033.2,"v":304},{"t":2033.7,"v":280},{"t":2034.2,"v":302},{"t":2034.7,"v":278},{"t":2035.2,"v":300},{"t":2035.7,"v":276},{"t":2036.2,"v":298},{"t":2036.7,"v":274},{"t":2037.2,"v":296},{"t":2037.7,"v":272},{"t":2038.2,"v":294},{"t":2038.7,"v":270},{"t":2039.2,"v":292},{"t":2039.7,"v":268},{"t":2040.2,"v":290},{"t":2040.7,"v":266},{"t":2041.2,"v":288},{"t":2041.7,"v":264},{"t":2042.2,"v":286},{"t":2042.7,"v":261},{"t":2043.2,"v":283},{"t":2043.7,"v":259},{"t":2044.2,"v":281},{"t":2044.7,"v":257},{"t":2045.2,"v":279},{"t":2045.7,"v":255},{"t":2046.2,"v":277},{"t":2046.7,"v":253},{"t":2047.2,"v":275},{"t":2047.7,"v":250},{"t":2048.2,"v":272},{"t":2048.7,"v":248},{"t":2049.2,"v":270},{"t":2049.7,"v":246},{"t":2050.2,"v":268},{"t":2050.7,"v":244},{"t":2051.2,"v":266},{"t":2051.7,"v":242},{"t":2052.2,"v":264},{"t":2052.7,"v":240},{"t":2053.2,"v":262},{"t":2053.7,"v":238},{"t":2054.2,"v":260},{"t":2054.7,"v":236},{"t":2055.2,"v":258},{"t":2055.7,"v":235},{"t":2056.2,"v":257},{"t":2056.7,"v":233},{"t":2057.2,"v":255},{"t":2057.7,"v":231},{"t":2058.2,"v":253},{"t":2058.7,"v":229},{"t":2059.2,"v":251},{"t":2059.7,"v":227},{"t":2060.2,"v":249},{"t":2060.7,"v":225},{"t":2061.2,"v":247},{"t":2061.7,"v":222},{"t":2062.2,"v":244},{"t":2062.7,"v":220},{"t":2063.2,"v":242},{"t":2063.7,"v":218},{"t":2064.2,"v":240},{"t":2064.7,"v":215},{"t":2065.2,"v":237},{"t":2065.7,"v":213},{"t":2066.2,"v":235},{"t":2066.7,"v":211},{"t":2067.2,"v":232},{"t":2067.7,"v":208},{"t":2068.2,"v":230},{"t":2068.7,"v":206},{"t":2069.2,"v":228},{"t":2069.7,"v":204},{"t":2070.2,"v":225},{"t":2070.7,"v":201},{"t":2071.2,"v":223},{"t":2071.7,"v":199},{"t":2072.2,"v":221},{"t":2072.7,"v":197},{"t":2073.2,"v":219},{"t":2073.7,"v":195},{"t":2074.2,"v":217},{"t":2074.7,"v":193},{"t":2075.2,"v":215},{"t":2075.7,"v":191},{"t":2076.2,"v":213},{"t":2076.7,"v":189},{"t":2077.2,"v":211},{"t":2077.7,"v":187},{"t":2078.2,"v":208},{"t":2078.7,"v":184},{"t":2079.2,"v":206},{"t":2079.7,"v":182},{"t":2080.2,"v":204},{"t":2080.7,"v":180},{"t":2081.2,"v":202},{"t":2081.7,"v":178},{"t":2082.2,"v":200},{"t":2082.7,"v":176},{"t":2083.2,"v":198},{"t":2083.7,"v":174},{"t":2084.2,"v":195},{"t":2084.7,"v":171},{"t":2085.2,"v":193},{"t":2085.7,"v":169},{"t":2086.2,"v":191},{"t":2086.7,"v":167},{"t":2087.2,"v":189},{"t":2087.7,"v":165},{"t":2088.2,"v":187},{"t":2088.7,"v":163},{"t":2089.2,"v":184},{"t":2089.7,"v":160},{"t":2090.2,"v":182},{"t":2090.7,"v":158},{"t":2091.2,"v":179},{"t":2091.7,"v":155},{"t":2092.2,"v":176},{"t":2092.7,"v":152},{"t":2093.2,"v":174},{"t":2093.7,"v":150},{"t":2094.2,"v":171},{"t":2094.7,"v":147},{"t":2095.2,"v":168},{"t":2095.7,"v":144},{"t":2096.2,"v":165},{"t":2096.7,"v":141},{"t":2097.2,"v":162},{"t":2097.7,"v":138},{"t":2098.2,"v":160},{"t":2098.7,"v":136},{"t":2099.2,"v":157},{"t":2099.7,"v":134}],
"eb1":[{"t":2046.2,"v":358,"g":1},{"t":2046.7,"v":336,"g":1},{"t":2047.2,"v":362,"g":1},{"t":2047.7,"v":334,"g":1},{"t":2048.2,"v":356,"g":1},{"t":2048.7,"v":330,"g":1},{"t":2049.2,"v":354,"g":1},{"t":2049.7,"v":328,"g":1},{"t":2050.2,"v":352,"g":1},{"t":2050.7,"v":325,"g":1},{"t":2051.2,"v":350,"g":1},{"t":2051.7,"v":324,"g":1},{"t":2052.2,"v":349,"g":1},{"t":2052.7,"v":322,"g":1},{"t":2053.2,"v":351,"g":1},{"t":2053.7,"v":320,"g":1},{"t":2054.2,"v":362,"g":1},{"t":2054.7,"v":319,"g":1},{"t":2055.2,"v":345,"g":1},{"t":2055.7,"v":317,"g":1},{"t":2056.2,"v":343,"g":1},{"t":2056.7,"v":315,"g":1},{"t":2057.2,"v":341,"g":1},{"t":2057.7,"v":313,"g":1},{"t":2058.2,"v":339,"g":1},{"t":2058.7,"v":311,"g":1},{"t":2059.2,"v":337,"g":1},{"t":2059.7,"v":309,"g":1},{"t":2060.2,"v":334,"g":1},{"t":2060.7,"v":306,"g":1},{"t":2061.2,"v":331,"g":1},{"t":2061.7,"v":304,"g":1},{"t":2062.2,"v":329,"g":1},{"t":2062.7,"v":302,"g":1},{"t":2063.2,"v":326,"g":1},{"t":2063.7,"v":299,"g":1},{"t":2064.2,"v":323,"g":1},{"t":2064.7,"v":297,"g":1},{"t":2065.2,"v":320,"g":1},{"t":2065.7,"v":295,"g":1},{"t":2081.2,"v":318,"g":2},{"t":2081.7,"v":298,"g":2},{"t":2082.2,"v":327,"g":2},{"t":2082.7,"v":296,"g":2},{"t":2083.2,"v":322,"g":2},{"t":2083.7,"v":293,"g":2},{"t":2084.2,"v":316,"g":2},{"t":2084.7,"v":290,"g":2},{"t":2085.2,"v":312,"g":2},{"t":2085.7,"v":288,"g":2},{"t":2086.2,"v":308,"g":2},{"t":2086.7,"v":284,"g":2},{"t":2087.2,"v":304,"g":2},{"t":2087.7,"v":280,"g":2},{"t":2088.2,"v":300,"g":2},{"t":2088.7,"v":276,"g":2},{"t":2089.2,"v":296,"g":2},{"t":2089.7,"v":272,"g":2},{"t":2090.2,"v":292,"g":2},{"t":2090.7,"v":268,"g":2},{"t":2091.2,"v":288,"g":2},{"t":2091.7,"v":264,"g":2},{"t":2092.2,"v":284,"g":2},{"t":2092.7,"v":260,"g":2},{"t":2093.2,"v":280,"g":2},{"t":2093.7,"v":256,"g":2},{"t":2094.2,"v":276,"g":2},{"t":2094.7,"v":252,"g":2},{"t":2095.2,"v":271,"g":2},{"t":2095.7,"v":248,"g":2},{"t":2096.2,"v":267,"g":2},{"t":2096.7,"v":244,"g":2},{"t":2097.2,"v":263,"g":2},{"t":2097.7,"v":240,"g":2},{"t":2098.2,"v":259,"g":2},{"t":2098.7,"v":236,"g":2},{"t":2099.2,"v":255,"g":2},{"t":2099.7,"v":232,"g":2}],
"ea2":[{"t":2046.2,"v":372,"g":1},{"t":2046.7,"v":328,"g":1},{"t":2047.2,"v":345,"g":1},{"t":2047.7,"v":326,"g":1},{"t":2048.2,"v":342,"g":1},{"t":2048.7,"v":322,"g":1},{"t":2049.2,"v":340,"g":1},{"t":2049.7,"v":320,"g":1},{"t":2050.2,"v":341,"g":1},{"t":2050.7,"v":318,"g":1},{"t":2051.2,"v":336,"g":1},{"t":2051.7,"v":316,"g":1},{"t":2052.2,"v":334,"g":1},{"t":2052.7,"v":313,"g":1},{"t":2053.2,"v":331,"g":1},{"t":2053.7,"v":311,"g":1},{"t":2054.2,"v":329,"g":1},{"t":2054.7,"v":309,"g":1},{"t":2055.2,"v":327,"g":1},{"t":2055.7,"v":307,"g":1},{"t":2056.2,"v":325,"g":1},{"t":2056.7,"v":304,"g":1},{"t":2057.2,"v":322,"g":1},{"t":2057.7,"v":302,"g":1},{"t":2058.2,"v":320,"g":1},{"t":2058.7,"v":300,"g":1},{"t":2059.2,"v":318,"g":1},{"t":2059.7,"v":297,"g":1},{"t":2060.2,"v":315,"g":1},{"t":2060.7,"v":295,"g":1},{"t":2061.2,"v":312,"g":1},{"t":2061.7,"v":292,"g":1},{"t":2062.2,"v":310,"g":1},{"t":2062.7,"v":289,"g":1},{"t":2063.2,"v":307,"g":1},{"t":2063.7,"v":287,"g":1},{"t":2064.2,"v":304,"g":1},{"t":2064.7,"v":284,"g":1},{"t":2065.2,"v":301,"g":1},{"t":2065.7,"v":281,"g":1},{"t":2081.2,"v":270,"g":2},{"t":2081.7,"v":254,"g":2},{"t":2082.2,"v":285,"g":2},{"t":2082.7,"v":252,"g":2},{"t":2083.2,"v":266,"g":2},{"t":2083.7,"v":248,"g":2},{"t":2084.2,"v":262,"g":2},{"t":2084.7,"v":245,"g":2},{"t":2085.2,"v":259,"g":2},{"t":2085.7,"v":242,"g":2},{"t":2086.2,"v":256,"g":2},{"t":2086.7,"v":239,"g":2},{"t":2087.2,"v":252,"g":2},{"t":2087.7,"v":235,"g":2},{"t":2088.2,"v":249,"g":2},{"t":2088.7,"v":232,"g":2},{"t":2089.2,"v":245,"g":2},{"t":2089.7,"v":228,"g":2},{"t":2090.2,"v":242,"g":2},{"t":2090.7,"v":225,"g":2},{"t":2091.2,"v":238,"g":2},{"t":2091.7,"v":222,"g":2},{"t":2092.2,"v":235,"g":2},{"t":2092.7,"v":218,"g":2},{"t":2093.2,"v":231,"g":2},{"t":2093.7,"v":215,"g":2},{"t":2094.2,"v":228,"g":2},{"t":2094.7,"v":212,"g":2},{"t":2095.2,"v":225,"g":2},{"t":2095.7,"v":209,"g":2},{"t":2096.2,"v":222,"g":2},{"t":2096.7,"v":206,"g":2},{"t":2097.2,"v":219,"g":2},{"t":2097.7,"v":203,"g":2},{"t":2098.2,"v":216,"g":2},{"t":2098.7,"v":200,"g":2},{"t":2099.2,"v":213,"g":2},{"t":2099.7,"v":197,"g":2}],
"fm":[{"t":2000,"v":358},{"t":2001,"v":360},{"t":2002,"v":361},{"t":2003,"v":359},{"t":2004,"v":358},{"t":2005,"v":356},{"t":2006,"v":355},{"t":2007,"v":353},{"t":2008,"v":351},{"t":2009,"v":349},{"t":2010,"v":347},{"t":2011,"v":345},{"t":2012,"v":343},{"t":2013,"v":341},{"t":2014,"v":340},{"t":2015,"v":338},{"t":2016,"v":336},{"t":2017,"v":334},{"t":2018,"v":332},{"t":2019,"v":330},{"t":2020,"v":328},{"t":2021,"v":326},{"t":2022,"v":324},{"t":2023,"v":322},{"t":2024,"v":320},{"t":2025,"v":318},{"t":2026,"v":316},{"t":2027,"v":314},{"t":2028,"v":312},{"t":2029,"v":310},{"t":2030,"v":308},{"t":2031,"v":306},{"t":2032,"v":304},{"t":2033,"v":302},{"t":2034,"v":300},{"t":2035,"v":298},{"t":2036,"v":296},{"t":2037,"v":294},{"t":2038,"v":292},{"t":2039,"v":290},{"t":2040,"v":288},{"t":2041,"v":286},{"t":2042,"v":284},{"t":2043,"v":282},{"t":2044,"v":280},{"t":2045,"v":278},{"t":2046,"v":276},{"t":2047,"v":274},{"t":2048,"v":272},{"t":2049,"v":270},{"t":2050,"v":268},{"t":2051,"v":266},{"t":2052,"v":264},{"t":2053,"v":262},{"t":2054,"v":260},{"t":2055,"v":258},{"t":2056,"v":256},{"t":2057,"v":254},{"t":2058,"v":252},{"t":2059,"v":250},{"t":2060,"v":248},{"t":2061,"v":246},{"t":2062,"v":244},{"t":2063,"v":242},{"t":2064,"v":240},{"t":2065,"v":238},{"t":2066,"v":236},{"t":2067,"v":234},{"t":2068,"v":232},{"t":2069,"v":230},{"t":2070,"v":228},{"t":2071,"v":226},{"t":2072,"v":224},{"t":2073,"v":222},{"t":2074,"v":220},{"t":2075,"v":218},{"t":2076,"v":216},{"t":2077,"v":214},{"t":2078,"v":212},{"t":2079,"v":210},{"t":2080,"v":208},{"t":2081,"v":206},{"t":2082,"v":204},{"t":2083,"v":202},{"t":2084,"v":200},{"t":2085,"v":198},{"t":2086,"v":196},{"t":2087,"v":194},{"t":2088,"v":192},{"t":2089,"v":190},{"t":2090,"v":188},{"t":2091,"v":186},{"t":2092,"v":184},{"t":2093,"v":182},{"t":2094,"v":180},{"t":2095,"v":178},{"t":2096,"v":176},{"t":2097,"v":174},{"t":2098,"v":172},{"t":2099,"v":170},{"t":2100,"v":162}]
},
"encoding":{
"x":{"field":"t","type":"quantitative","scale":{"domain":[1960,2100],"nice":false,"zero":false},"axis":{"values":[1960,1970,1980,1990,2000,2010,2020,2030,2040,2050,2060,2070,2080,2090,2100],"labelExpr":"datum.value == 2100 ? '' : datum.label","format":"d","labelAngle":270,"labelFont":"Liberation Sans","labelFontSize":24,"labelColor":"#333333","labelPadding":14,"tickSize":9,"tickWidth":2,"tickColor":"#555555","domainColor":"#555555","domainWidth":2,"grid":false,"title":null}},
"y":{"field":"v","type":"quantitative","scale":{"domain":[0,500],"nice":false},"axis":{"values":[0,100,200,300,400,500],"grid":true,"gridDash":[4,2],"gridColor":"#777777","gridWidth":2,"domainColor":"#555555","domainWidth":2,"tickColor":"#555555","tickWidth":2,"tickSize":12,"labelFont":"Liberation Sans","labelFontSize":25,"labelColor":"#333333","labelPadding":16,"title":"Запас воды в снежно-ледовом покрове (км³)","titleFont":"Liberation Sans","titleFontSize":33,"titleFontWeight":"normal","titleColor":"#333333","titleAngle":270,"titleAlign":"center","titleBaseline":"middle","titleX":-105,"titleY":105}}
},
"layer":[
{"data":{"values":[{"t":2000,"v":0,"v2":500}]},"mark":{"type":"rule","color":"#555555","strokeWidth":2},"encoding":{"y2":{"field":"v2"}}},
{"layer":[
{"data":{"name":"hm"},"mark":{"type":"line","color":"#808080"},"encoding":{"strokeWidth":{"datum":"Средняя по ансамблю","type":"nominal","scale":{"range":[7,7]},"legend":{"title":null,"legendX":-50,"legendY":-222,"symbolStrokeColor":"#808080"}}}},
{"data":{"name":"hc"},"mark":{"type":"line","strokeWidth":2},"encoding":{"color":{"datum":"CCSM3","scale":{"domain":["CCSM3","CSIRO","EH5"],"range":["#3535ee","#e82828","#2a9a2a"]},"legend":{"title":null,"legendX":-50,"legendY":-188,"symbolOpacity":0.6,"symbolStrokeWidth":3}}}},
{"data":{"name":"he"},"mark":{"type":"line","strokeWidth":2},"encoding":{"color":{"datum":"EH5"}}},
{"data":{"name":"hs"},"mark":{"type":"line","strokeWidth":2},"encoding":{"color":{"datum":"CSIRO"}}},
{"data":{"name":"hl"},"mark":{"type":"line","color":"#000000","strokeWidth":4},"encoding":{"strokeDash":{"datum":"Линейная (ср. по ансамблю)","scale":{"range":[[16,6]]},"legend":{"title":null,"legendX":-50,"legendY":-90}}}}
]},
{"layer":[
{"data":{"name":"a2"},"mark":{"type":"line","strokeWidth":2},"encoding":{"color":{"datum":"CCSM3 A2","scale":{"domain":["CCSM3 A1B","CCSM3 A2","CSIRO B1","EH5 A1B","EH5 A2"],"range":["#b050c0","#3a9a9a","#33ccee","#dd2222","#f09030"]},"legend":{"title":null,"legendX":1063,"legendY":-220,"symbolOpacity":0.6,"symbolStrokeWidth":3}}}},
{"data":{"name":"a1"},"mark":{"type":"line","strokeWidth":2},"encoding":{"color":{"datum":"CCSM3 A1B"}}},
{"data":{"name":"sb1"},"mark":{"type":"line","strokeWidth":2},"encoding":{"color":{"datum":"CSIRO B1"}}},
{"data":{"name":"ea2"},"mark":{"type":"line","strokeWidth":2},"encoding":{"color":{"datum":"EH5 A2"},"detail":{"field":"g"}}},
{"data":{"name":"ea1"},"mark":{"type":"line","strokeWidth":2},"encoding":{"color":{"datum":"EH5 A1B"}}}
]},
{"layer":[
{"data":{"name":"b1"},"mark":{"type":"line","strokeWidth":2},"encoding":{"color":{"datum":"CCSM3 B1","scale":{"domain":["CCSM3 B1","CSIRO A1B","CSIRO A2","EH5 B1"],"range":["#c07070","#1a1ae0","#22dd22","#eeee22"]},"legend":{"title":null,"legendX":545,"legendY":-186,"symbolOpacity":0.6,"symbolStrokeWidth":3}}}},
{"data":{"name":"eb1"},"mark":{"type":"line","strokeWidth":2},"encoding":{"color":{"datum":"EH5 B1"},"detail":{"field":"g"}}},
{"data":{"name":"sa1"},"mark":{"type":"line","strokeWidth":2},"encoding":{"color":{"datum":"CSIRO A1B"}}},
{"data":{"name":"sa2"},"mark":{"type":"line","strokeWidth":2},"encoding":{"color":{"datum":"CSIRO A2"}}}
]},
{"layer":[
{"data":{"name":"fm"},"mark":{"type":"line","color":"#000000"},"encoding":{"strokeWidth":{"datum":"Средняя по ансамблю","type":"nominal","scale":{"range":[7,7]},"legend":{"title":null,"legendX":545,"legendY":-219,"symbolStrokeColor":"#000000"}}}},
{"data":{"name":"fl"},"mark":{"type":"line","color":"#000000","strokeWidth":4},"encoding":{"strokeDash":{"datum":"Линейная (ср. по ансамблю)","scale":{"range":[[16,6]]},"legend":{"title":null,"legendX":545,"legendY":-45}}}}
]},
{"data":{"values":[{"t":1998,"v":147,"label":"y = -0.0016x + 356.18"},{"t":2099.6,"v":32,"label":"y = -0.0055x + 567.23"}]},"mark":{"type":"text","align":"right","baseline":"middle","font":"DejaVu Sans","fontSize":28,"color":"#222222"},"encoding":{"text":{"field":"label"}}}
],
"resolve":{"scale":{"color":"independent","strokeWidth":"independent","strokeDash":"independent"},"legend":{"color":"independent","strokeWidth":"independent","strokeDash":"independent"}}
}
